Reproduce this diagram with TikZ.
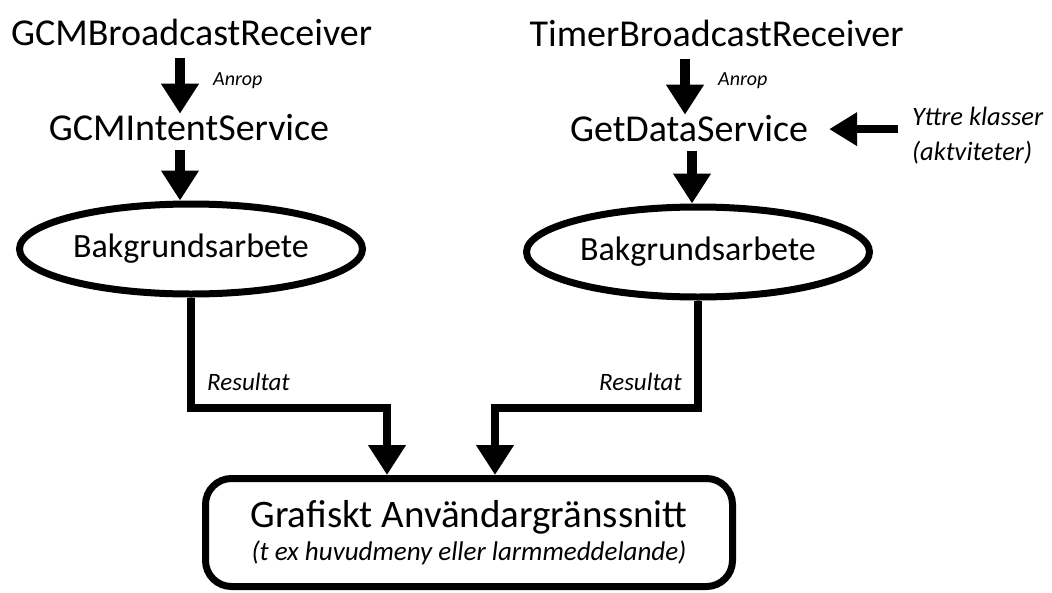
\documentclass[tikz,border=0pt]{standalone}
\usepackage{fontspec}
\setmainfont{Carlito}
\usetikzlibrary{arrows.meta,shapes.geometric}
\tikzset{
  lbl/.style={inner sep=0pt, font=\fontsize{38}{44}\selectfont},
  ell/.style={ellipse, draw, line width=7pt, inner sep=0pt, minimum width=343pt, minimum height=90pt, font=\fontsize{34}{40}\selectfont},
  uibox/.style={draw, line width=7pt, rounded corners=26pt, minimum width=527pt, minimum height=108pt, inner sep=0pt, align=center, font=\fontsize{39}{33}\selectfont},
  anr/.style={inner sep=0pt, font=\fontsize{20}{24}\selectfont\itshape},
  res/.style={inner sep=0pt, font=\fontsize{25}{30}\selectfont\itshape},
  extlbl/.style={inner sep=0pt, align=left, font=\fontsize{26.5}{35}\selectfont\itshape},
  bigarrow/.style={line width=10pt, -{Triangle[width=36pt,length=30pt]}},
  sidearrow/.style={line width=8pt, -{Triangle[width=32pt,length=28pt]}},
  conn/.style={line width=8pt, line join=miter, -{Triangle[width=36pt,length=30pt]}}
}
\begin{document}
\begin{tikzpicture}[x=1pt,y=-1pt]
\useasboundingbox[fill=white] (0,0) rectangle (1052,592);

% text nodes
\node[lbl, anchor=base] (gbr) at (191.5,45) {GCMBroadcastReceiver};
\node[lbl, anchor=base] (tbr) at (716.5,46) {TimerBroadcastReceiver};
\node[lbl, anchor=base] (gis) at (189,140) {GCMIntentService};
\node[lbl, anchor=base] (gds) at (689,141) {GetDataService};
\node[ell] (e1) at (191,249) {Bakgrundsarbete};
\node[ell] (e2) at (698,252) {Bakgrundsarbete};
\node[uibox] (ui) at (469,532.5) {Grafiskt Användargränssnitt\\{\fontsize{27}{33}\selectfont\itshape (t ex huvudmeny eller larmmeddelande)}};
\node[extlbl, anchor=base west] (ext) at (912,160) {Yttre klasser\\(aktviteter)};

% labels
\node[anr, anchor=base west] (an1) at (213,85) {Anrop};
\node[anr, anchor=base west] (an2) at (718,85) {Anrop};
\node[res, anchor=base west] (r1) at (207,390) {Resultat};
\node[res, anchor=base east] (r2) at (682,390) {Resultat};

% arrows
\draw[bigarrow] ([xshift=-11.5pt,yshift=-13pt]gbr.south) -- ([xshift=-11.5pt]gbr.south |- gis.north);
\draw[bigarrow] ([xshift=-9pt,yshift=-10pt]gis.south) -- ([xshift=-9pt]gis.south |- e1.north);
\draw[bigarrow] ([xshift=-31.5pt,yshift=-13pt]tbr.south) -- ([xshift=-31.5pt]tbr.south |- gds.north);
\draw[bigarrow] ([xshift=3pt,yshift=-10pt]gds.south) -- ([xshift=3pt]gds.south |- e2.north);
\draw[sidearrow, shorten <=14pt, shorten >=21pt] ([yshift=6pt]ext.west) -- ([yshift=6pt]ext.west -| gds.east);

% result connectors
\coordinate (j1) at (387,408);
\coordinate (j2) at (495,408);
\draw[conn] (e1.south) |- (j1) -- (j1 |- ui.north);
\draw[conn] (e2.south) |- (j2) -- (j2 |- ui.north);
\end{tikzpicture}
\end{document}
